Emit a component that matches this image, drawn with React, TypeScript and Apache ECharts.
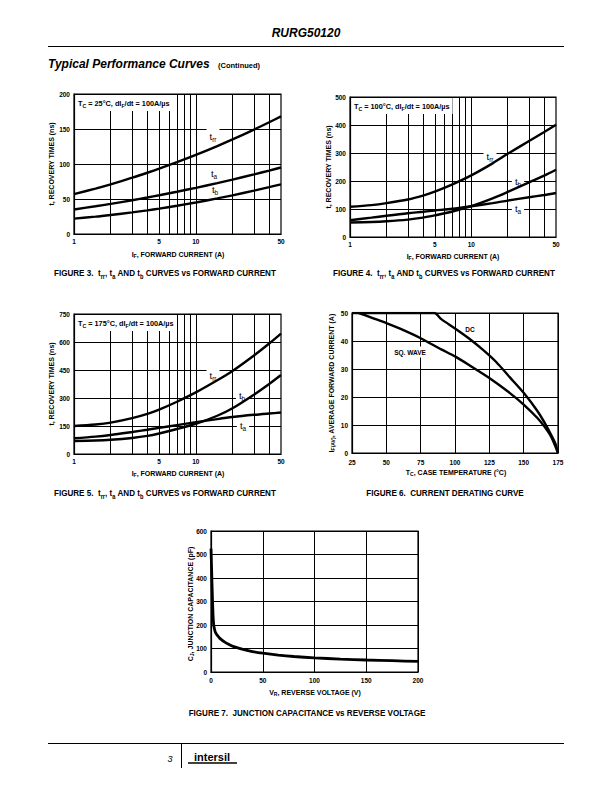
import React, { useEffect, useRef } from 'react';
import * as echarts from 'echarts';

const FONT = "'Liberation Sans', Arial, Helvetica, sans-serif";

// ---------- Figure 3: Tc = 25°C ----------
const fig3Current = [1, 1.5, 2, 3, 4, 5, 7, 10, 15, 20, 30, 40, 50];
const fig3Trr = [57, 64.9, 71, 80.4, 87.5, 93.3, 102.6, 113, 125.6, 135.1, 149.1, 159.6, 168];
const fig3Ta = [35, 39.6, 43, 48.2, 52.2, 55.4, 60.4, 66, 72.7, 77.7, 85.1, 90.6, 95];
const fig3Tb = [22, 24.8, 27.2, 30.9, 33.8, 36.3, 40.3, 45, 50.8, 55.2, 61.9, 66.9, 71];

// ---------- Figure 4: Tc = 100°C ----------
const fig4Current = [1, 1.5, 2, 3, 4, 5, 7, 10, 15, 20, 30, 40, 50];
const fig4Trr = [108, 114, 121, 134, 148, 162, 188, 220, 263, 297, 343, 375, 401];
const fig4Ta = [60, 69, 76, 85, 90, 94.5, 101, 110, 121, 130, 142, 150, 157];
const fig4Tb = [52, 53.5, 56, 62, 69, 77, 91, 110, 138, 161, 195, 219, 240];

// ---------- Figure 5: Tc = 175°C ----------
const fig5Current = [1, 1.5, 2, 3, 4, 5, 7, 10, 15, 20, 30, 40, 50];
const fig5Trr = [150, 158, 168, 192, 215, 238, 280, 330, 395, 445, 528, 592, 645];
const fig5Ta = [84, 93, 102, 118, 130, 140, 155, 170, 187, 198, 210, 217, 222];
const fig5Tb = [70, 72, 76, 86, 97, 110, 134, 162, 205, 245, 318, 375, 423];

// ---------- Figure 6: current derating ----------
const fig6DcTemp = [25, 50, 75, 85, 90, 100, 110, 120, 130, 140, 150, 160, 165, 170, 173, 175];
const fig6DcCurrent = [50, 50, 50, 50, 47.8, 44.5, 41, 37, 32.5, 27, 21.5, 15, 11, 6.5, 3.5, 0];
const fig6SqTemp = [30, 40, 50, 60, 75, 90, 100, 110, 125, 140, 150, 160, 165, 170, 175];
const fig6SqCurrent = [50, 48.2, 46.4, 44.4, 41, 37, 34.5, 31.5, 26.8, 21.4, 17.3, 12.5, 9.5, 5.8, 0];

// ---------- Figure 7: junction capacitance ----------
const fig7Voltage = [0, 0.5, 1, 1.5, 2, 2.5, 3, 4, 5, 6, 8, 10, 13, 17, 22, 30, 40, 50, 65, 80, 100, 125, 150, 175, 200];
const fig7Capacitance = [525, 450, 370, 300, 240, 205, 190, 172, 163, 157, 146, 138, 128, 118, 108, 97, 87, 80, 72, 66, 60, 55, 51, 48, 45];

// log axis grid & labels
const logMinorGrid = [2, 3, 4, 5, 6, 7, 8, 9, 10, 20, 30, 40];
const logTickLabels = [1, 5, 10, 50];

const pair = (xs: number[], ys: number[]) => xs.map((x, i) => [x, ys[i]]);

const subRich = (size: number, weight: string = 'bold', subScale = 0.72) => ({
  n: {
    fontSize: size,
    fontWeight: weight,
    fontFamily: FONT,
    fill: '#000',
    lineHeight: Math.round(size * 1.35),
  },
  s: {
    fontSize: size * subScale,
    fontWeight: weight,
    fontFamily: FONT,
    fill: '#000',
    lineHeight: size * subScale,
    verticalAlign: 'bottom',
  },
});

type TOpts = {
  size?: number;
  weight?: string;
  fstyle?: string;
  align?: string;
  rotation?: number;
  scaleX?: number;
  rich?: any;
  bg?: string;
  padding?: number[];
  z?: number;
};

const T = (x: number, y: number, text: string, o: TOpts = {}) => ({
  type: 'text',
  x,
  y,
  z: o.z ?? 5,
  rotation: o.rotation ?? 0,
  scaleX: o.scaleX ?? 1,
  silent: true,
  style: {
    text,
    fill: '#000',
    fontFamily: FONT,
    fontSize: o.size ?? 7,
    fontWeight: o.weight ?? 'bold',
    fontStyle: o.fstyle ?? 'normal',
    align: o.align ?? 'center',
    verticalAlign: 'middle',
    rich: o.rich,
    backgroundColor: o.bg,
    padding: o.padding,
  },
});

const L = (x1: number, y1: number, x2: number, y2: number, w = 1) => ({
  type: 'line',
  z: 5,
  silent: true,
  shape: { x1, y1, x2, y2 },
  style: { stroke: '#000', lineWidth: w },
});

const grids = [
  { left: 74, top: 94, width: 207, height: 140 },
  { left: 350, top: 97, width: 206, height: 140 },
  { left: 74, top: 314, width: 207, height: 140 },
  { left: 352, top: 313, width: 206, height: 140 },
  { left: 211, top: 531, width: 207, height: 141 },
];

const tickLabel = { fontSize: 6.5, fontWeight: 'bold', color: '#000', fontFamily: FONT };

const logX = (gi: number) => ({
  type: 'log',
  logBase: 10,
  min: 1,
  max: 50,
  gridIndex: gi,
  axisLine: { show: true, lineStyle: { color: '#000', width: 1.2 } },
  axisTick: { show: false },
  axisLabel: { show: false },
  splitLine: { show: false },
});

const valAxis = (gi: number, min: number, max: number, interval: number, margin: number) => ({
  type: 'value',
  min,
  max,
  interval,
  gridIndex: gi,
  axisLine: { show: true, lineStyle: { color: '#000', width: 1.2 } },
  axisTick: { show: false },
  axisLabel: { ...tickLabel, margin },
  splitLine: { show: true, lineStyle: { color: '#000', width: 1 } },
});

const curve = (gi: number, data: number[][], width = 2.4, smooth = 0.3) => ({
  type: 'line',
  xAxisIndex: gi,
  yAxisIndex: gi,
  data,
  symbol: 'none',
  smooth,
  silent: true,
  z: 3,
  lineStyle: { color: '#000', width },
});

const logGridSeries = (gi: number) => ({
  type: 'line',
  xAxisIndex: gi,
  yAxisIndex: gi,
  data: [],
  z: 1,
  silent: true,
  markLine: {
    silent: true,
    z: 1,
    symbol: ['none', 'none'],
    animation: false,
    label: { show: false },
    lineStyle: { color: '#000', width: 1, type: 'solid' },
    data: logMinorGrid.map((v) => ({ xAxis: v })),
  },
});

const logLabelSeries = (gi: number) => ({
  type: 'line',
  xAxisIndex: gi,
  yAxisIndex: gi,
  data: [],
  z: 1,
  silent: true,
  markLine: {
    silent: true,
    z: 1,
    symbol: ['none', 'none'],
    animation: false,
    label: { show: true, position: 'start', formatter: '{b}', distance: 4, ...tickLabel },
    lineStyle: { color: '#000', width: 0, type: 'solid' },
    data: logTickLabels.map((v) => ({ xAxis: v, name: String(v) })),
  },
});

function buildOption() {
  const r7 = subRich(7);
  const rAnn = subRich(7.3);
  const rCap = subRich(9.5, 'bold', 0.7);
  const rLbl = subRich(9.5, 'normal', 0.68);

  const annot = (x: number, y: number, tc: string) =>
    T(x, y, `{n|T}{s|C}{n| = ${tc}, dI}{s|F}{n|/dt = 100A/µs}`, {
      rich: rAnn,
      align: 'left',
      bg: '#fff',
      padding: [3, 3, 3, 2],
      z: 2,
    });
  const lbl = (x: number, y: number, sub: string) =>
    T(x, y, `{n|t}{s|${sub}}`, { rich: rLbl, bg: '#fff', padding: [1, 3, 1, 3], z: 2 });
  const caption = (x: number, y: number, text: string) =>
    T(x, y, text, { rich: rCap, scaleX: 0.85 });
  const recCaption = (n: number) =>
    `{n|FIGURE ${n}.  t}{s|rr}{n|, t}{s|a}{n| AND t}{s|b}{n| CURVES vs FORWARD CURRENT}`;
  const ifName = '{n|I}{s|F}{n|, FORWARD CURRENT (A)}';
  const yRec = 't, RECOVERY TIMES (ns)';

  const elements: any[] = [
    // header
    T(306, 33, 'RURG50120', { size: 12, fstyle: 'italic' }),
    L(48, 46.5, 564, 46.5, 1),
    T(48, 64, 'Typical Performance Curves', { size: 12, fstyle: 'italic', align: 'left' }),
    T(218, 65, '(Continued)', { size: 7.5, align: 'left' }),

    // Figure 3
    annot(76, 103, '25°C'),
    lbl(213, 136, 'rr'),
    lbl(214, 173, 'a'),
    lbl(215, 189, 'b'),
    T(51, 164, yRec, { size: 7, rotation: Math.PI / 2 }),
    T(178, 254, ifName, { rich: r7 }),
    caption(165, 273, recCaption(3)),

    // Figure 4
    annot(352, 106, '100°C'),
    lbl(490, 156, 'rr'),
    lbl(518, 181, 'b'),
    lbl(518, 208, 'a'),
    T(328, 167, yRec, { size: 7, rotation: Math.PI / 2 }),
    T(453, 256, ifName, { rich: r7 }),
    caption(444, 273, recCaption(4)),

    // Figure 5
    annot(76, 323, '175°C'),
    lbl(213, 375, 'rr'),
    lbl(242, 395, 'b'),
    lbl(243, 425, 'a'),
    T(51, 384, yRec, { size: 7, rotation: Math.PI / 2 }),
    T(178, 473, ifName, { rich: r7 }),
    caption(165, 493, recCaption(5)),

    // Figure 6
    T(470, 329, 'DC', { size: 6.5 }),
    T(410, 352, 'SQ. WAVE', { size: 6.5, bg: '#fff', padding: [2, 3, 2, 3], z: 2 }),
    T(331, 383, '{n|I}{s|F(AV)}{n|, AVERAGE FORWARD CURRENT (A)}', {
      rich: r7,
      rotation: Math.PI / 2,
    }),
    T(456, 472, '{n|T}{s|C}{n|, CASE TEMPERATURE (°C)}', { rich: r7 }),
    caption(445, 493, '{n|FIGURE 6.  CURRENT DERATING CURVE}'),

    // Figure 7
    T(190, 604, '{n|C}{s|J}{n|, JUNCTION CAPACITANCE (pF)}', {
      rich: r7,
      rotation: Math.PI / 2,
    }),
    T(315, 692, '{n|V}{s|R}{n|, REVERSE VOLTAGE (V)}', { rich: r7 }),
    caption(307, 713, '{n|FIGURE 7.  JUNCTION CAPACITANCE vs REVERSE VOLTAGE}'),

    // footer
    L(48, 743.5, 564, 743.5, 1),
    T(170, 759, '3', { size: 9, weight: 'normal', fstyle: 'italic' }),
    L(181.5, 744, 181.5, 768, 1),
    T(194, 757, 'intersil', { size: 11, align: 'left' }),
    L(188, 763, 237, 763, 1.4),
  ];

  return {
    animation: false,
    backgroundColor: '#fff',
    grid: grids.map((g) => ({
      ...g,
      show: true,
      borderColor: '#000',
      borderWidth: 1.2,
      backgroundColor: 'transparent',
      containLabel: false,
    })),
    xAxis: [
      logX(0),
      logX(1),
      logX(2),
      valAxis(3, 25, 175, 25, 6),
      valAxis(4, 0, 200, 50, 5),
    ],
    yAxis: [
      valAxis(0, 0, 200, 50, 4),
      valAxis(1, 0, 500, 100, 4),
      valAxis(2, 0, 750, 150, 4),
      valAxis(3, 0, 50, 10, 4),
      valAxis(4, 0, 600, 100, 4),
    ],
    series: [
      logGridSeries(0),
      logGridSeries(1),
      logGridSeries(2),
      logLabelSeries(0),
      logLabelSeries(1),
      logLabelSeries(2),
      curve(0, pair(fig3Current, fig3Trr)),
      curve(0, pair(fig3Current, fig3Ta)),
      curve(0, pair(fig3Current, fig3Tb)),
      curve(1, pair(fig4Current, fig4Trr)),
      curve(1, pair(fig4Current, fig4Ta)),
      curve(1, pair(fig4Current, fig4Tb)),
      curve(2, pair(fig5Current, fig5Trr)),
      curve(2, pair(fig5Current, fig5Ta)),
      curve(2, pair(fig5Current, fig5Tb)),
      curve(3, pair(fig6DcTemp, fig6DcCurrent), 2.4, 0.25),
      curve(3, pair(fig6SqTemp, fig6SqCurrent), 2.4, 0.25),
      curve(4, pair(fig7Voltage, fig7Capacitance), 2.8, 0.2),
    ],
    graphic: { elements },
  };
}

export default function App() {
  const ref = useRef<HTMLDivElement>(null);
  useEffect(() => {
    if (!ref.current) return;
    const chart = echarts.init(ref.current, undefined, { renderer: 'svg' });
    chart.setOption(buildOption() as any);
    return () => chart.dispose();
  }, []);
  return (
    <div
      ref={ref}
      style={{ position: 'absolute', left: 0, top: 0, width: 612, height: 792, background: '#fff' }}
    />
  );
}
